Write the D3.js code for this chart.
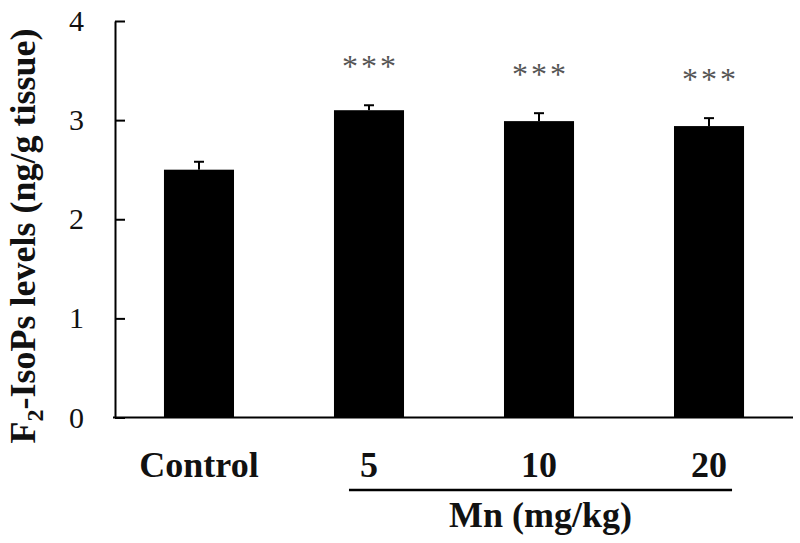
<!DOCTYPE html>
<html>
<head>
<meta charset="utf-8">
<script src="https://cdn.jsdelivr.net/npm/d3@7"></script>
<style>
  body { margin: 0; background: #fff; }
  text { font-family: "Liberation Serif", "Times New Roman", serif; }
</style>
</head>
<body>
<svg id="chart" width="800" height="543"></svg>
<script>
// groups along the x axis
const categories = ['Control', '5', '10', '20'];
// F2-IsoPs means and error (SEM)
const means = [2.50, 3.10, 2.99, 2.94];
const errors = [0.08, 0.05, 0.08, 0.08];
// significance marks above each bar
const marks = ['', '***', '***', '***'];
const yTicks = [0, 1, 2, 3, 4];

/* SVG frame's settings */
const width = 800;
const height = 543;
const margin = { top: 21, right: 7, bottom: 125.5, left: 115 };

const svg = d3.select('#chart');

const x = d3.scaleBand()
  .domain(categories)
  .range([margin.left, width - margin.right])
  .paddingInner(0.588)
  .paddingOuter(0.288);

const y = d3.scaleLinear()
  .domain([0, 4])
  .range([height - margin.bottom, margin.top]);

const rows = categories.map((c, i) => ({ name: c, value: means[i], err: errors[i], mark: marks[i] }));

/* bars */
svg.append('g')
  .selectAll('rect')
  .data(rows)
  .enter()
  .append('rect')
  .attr('x', d => x(d.name))
  .attr('y', d => y(d.value))
  .attr('width', x.bandwidth())
  .attr('height', d => y(0) - y(d.value))
  .attr('fill', '#000');

/* error bars, upper half only */
const err = svg.append('g').attr('stroke', '#000').attr('stroke-width', 2);
err.selectAll('line.stem')
  .data(rows)
  .enter()
  .append('line')
  .attr('class', 'stem')
  .attr('x1', d => x(d.name) + x.bandwidth() / 2)
  .attr('x2', d => x(d.name) + x.bandwidth() / 2)
  .attr('y1', d => y(d.value))
  .attr('y2', d => y(d.value + d.err));
err.selectAll('line.cap')
  .data(rows)
  .enter()
  .append('line')
  .attr('class', 'cap')
  .attr('x1', d => x(d.name) + x.bandwidth() / 2 - 5)
  .attr('x2', d => x(d.name) + x.bandwidth() / 2 + 5)
  .attr('y1', d => y(d.value + d.err))
  .attr('y2', d => y(d.value + d.err));

/* asterisks */
const starGap = 19;
svg.append('g')
  .selectAll('g')
  .data(rows.filter(d => d.mark))
  .enter()
  .append('g')
  .each(function (d) {
    const cx = x(d.name) + x.bandwidth() / 2;
    const cy = y(d.value + d.err) - 43;
    d3.select(this).selectAll('text')
      .data(d.mark.split(''))
      .enter()
      .append('text')
      .attr('x', (s, i) => cx + (i - 1) * starGap)
      .attr('y', cy + 15)
      .attr('text-anchor', 'middle')
      .attr('font-size', 32)
      .attr('fill', '#555')
      .text(s => s);
  });

/* y axis, ticks pointing inward */
const yAxis = svg.append('g')
  .attr('transform', `translate(${margin.left},0)`)
  .call(d3.axisLeft(y).tickValues(yTicks).tickFormat(d3.format('d'))
    .tickSizeInner(-10).tickSizeOuter(0).tickPadding(31));
yAxis.select('.domain').attr('stroke-width', 2);
yAxis.selectAll('.tick line').attr('stroke-width', 2);
yAxis.selectAll('.tick text')
  .attr('font-size', 30)
  .attr('font-family', '"Liberation Serif", serif')
  .attr('fill', '#111');

/* x axis */
const xAxis = svg.append('g')
  .attr('transform', `translate(0,${y(0)})`)
  .call(d3.axisBottom(x).tickSize(0).tickPadding(34));
xAxis.select('.domain')
  .attr('d', `M${margin.left - 2},0H${width - margin.right}`)
  .attr('stroke-width', 2);
xAxis.selectAll('.tick text')
  .attr('font-size', 36)
  .attr('font-weight', 'bold')
  .attr('font-family', '"Liberation Serif", serif')
  .attr('fill', '#111')
  .attr('dy', 0)
  .attr('y', 477 - y(0));

/* Mn group bracket */
const gx0 = x('5') + 15;
const gx1 = x('20') + x.bandwidth() - 12;
svg.append('line')
  .attr('x1', gx0).attr('x2', gx1)
  .attr('y1', 490).attr('y2', 490)
  .attr('stroke', '#000').attr('stroke-width', 2.5);
svg.append('text')
  .attr('x', (gx0 + gx1) / 2)
  .attr('y', 527)
  .attr('text-anchor', 'middle')
  .attr('font-size', 36)
  .attr('font-weight', 'bold')
  .attr('fill', '#111')
  .text('Mn (mg/kg)');

/* y title */
const title = svg.append('text')
  .attr('transform', 'translate(35,236) rotate(-90)')
  .attr('text-anchor', 'middle')
  .attr('font-size', 36)
  .attr('font-weight', 'bold')
  .attr('fill', '#111');
title.append('tspan').text('F');
title.append('tspan').attr('font-size', 24).attr('dy', 8).text('2');
title.append('tspan').attr('dy', -8).text('-IsoPs levels (ng/g tissue)');
</script>
</body>
</html>
